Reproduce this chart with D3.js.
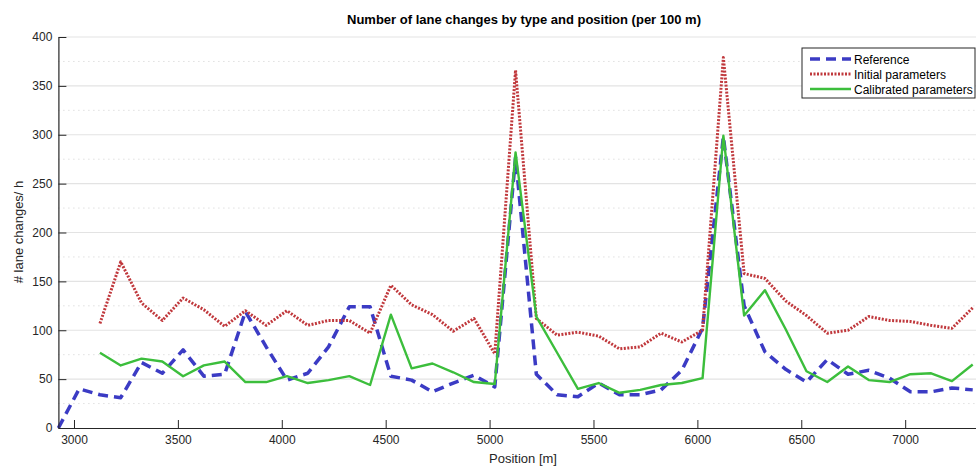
<!DOCTYPE html>
<html>
<head>
<meta charset="utf-8">
<script src="https://cdn.jsdelivr.net/npm/d3@7"></script>
<style>
  body { margin: 0; background: #fff; }
  #chart { width: 976px; height: 466px; overflow: hidden; }
  text { font-family: "Liberation Sans", Arial, sans-serif; }
  .axis text { font-size: 12px; fill: #262626; }
  .axis path, .axis line { stroke: #262626; }
</style>
</head>
<body>
<div id="chart"></div>
<script>
// ---------- Data ----------
const positions = [
  2925, 3025, 3125, 3225, 3325, 3425, 3525, 3625, 3725, 3825,
  3925, 4025, 4125, 4225, 4325, 4425, 4525, 4625, 4725, 4825,
  4925, 5025, 5125, 5225, 5325, 5425, 5525, 5625, 5725, 5825,
  5925, 6025, 6125, 6225, 6325, 6425, 6525, 6625, 6725, 6825,
  6925, 7025, 7125, 7225, 7325
];

const referenceValues = [
  0, 40, 34, 31, 67, 56, 80, 53, 55, 119,
  83, 49, 56, 83, 124, 124, 53, 49, 37, 46,
  54, 42, 277, 55, 34, 32, 46, 34, 34, 39,
  59, 102, 298, 125, 78, 60, 47, 70, 55, 59,
  51, 37, 37, 41, 39
];

const initialValues = [
  null, null, 107, 170, 128, 110, 133, 121, 104, 120,
  105, 120, 105, 110, 110, 97, 146, 126, 116, 99,
  112, 76, 366, 112, 95, 98, 94, 81, 83, 97,
  88, 100, 379, 158, 153, 130, 115, 97, 100, 114,
  110, 109, 105, 102, 123
];

const calibratedValues = [
  null, null, 77, 64, 71, 68, 53, 64, 68, 47,
  47, 53, 46, 49, 53, 44, 116, 61, 66, 57,
  47, 45, 282, 114, 77, 40, 46, 36, 39, 44,
  46, 51, 299, 115, 141, 101, 58, 47, 63, 49,
  47, 55, 56, 48, 65
];

const xTickValues = [3000, 3500, 4000, 4500, 5000, 5500, 6000, 6500, 7000];
const yTickValues = [0, 50, 100, 150, 200, 250, 300, 350, 400];
const yMinorValues = [25, 75, 125, 175, 225, 275, 325, 375];

const seriesInfo = [
  { label: "Reference", values: referenceValues, color: "#3b3bc4", width: 3.5, dash: "10,6" },
  { label: "Initial parameters", values: initialValues, color: "#c0383c", width: 3, dash: "2,1.5" },
  { label: "Calibrated parameters", values: calibratedValues, color: "#3cbe3c", width: 2.4, dash: null }
];

// ---------- Layout ----------
const width = 976;
const height = 466;
const plot = { left: 58.4, right: 988.3, top: 37, bottom: 428 };

const svg = d3.select("#chart").append("svg")
  .attr("width", width)
  .attr("height", height);

// ---------- Scales ----------
const xScale = d3.scaleLinear()
  .domain([2925, 7400])
  .range([plot.left, plot.right]);

const yScale = d3.scaleLinear()
  .domain([0, 400])
  .range([plot.bottom, plot.top]);

// ---------- Grid ----------
svg.append("g")
  .selectAll("line")
  .data(yMinorValues)
  .enter()
  .append("line")
  .attr("x1", plot.left)
  .attr("x2", plot.right)
  .attr("y1", d => yScale(d))
  .attr("y2", d => yScale(d))
  .attr("stroke", "#cfcfcf")
  .attr("stroke-width", 1)
  .attr("stroke-dasharray", "1,4");

svg.append("g")
  .selectAll("line")
  .data(yTickValues.filter(d => d > 0))
  .enter()
  .append("line")
  .attr("x1", plot.left)
  .attr("x2", plot.right)
  .attr("y1", d => yScale(d))
  .attr("y2", d => yScale(d))
  .attr("stroke", "#e3e3e3")
  .attr("stroke-width", 1.2);

// ---------- Lines ----------
const lineGen = values => d3.line()
  .defined((d, i) => values[i] !== null)
  .x((d, i) => xScale(positions[i]))
  .y((d, i) => yScale(values[i]))(values);

svg.append("g")
  .selectAll("path")
  .data(seriesInfo)
  .enter()
  .append("path")
  .attr("d", d => lineGen(d.values))
  .attr("fill", "none")
  .attr("stroke", d => d.color)
  .attr("stroke-width", d => d.width)
  .attr("stroke-dasharray", d => d.dash)
  .attr("stroke-linejoin", "round");

// ---------- Axes ----------
svg.append("g")
  .attr("class", "axis")
  .attr("transform", `translate(0,${plot.bottom})`)
  .call(d3.axisBottom(xScale)
    .tickValues(xTickValues)
    .tickFormat(d3.format("d"))
    .tickSizeInner(-8).tickSizeOuter(0).tickPadding(7))
  .call(g => g.select(".domain").attr("stroke-width", 1.2));

svg.append("g")
  .attr("class", "axis")
  .attr("transform", `translate(${plot.left},0)`)
  .call(d3.axisLeft(yScale)
    .tickValues(yTickValues)
    .tickSizeInner(-8).tickSizeOuter(0).tickPadding(6))
  .call(g => g.select(".domain").attr("stroke-width", 1.2));

// ---------- Labels ----------
svg.append("text")
  .attr("x", 524)
  .attr("y", 24)
  .attr("text-anchor", "middle")
  .attr("font-size", 13)
  .attr("font-weight", "bold")
  .attr("fill", "#000")
  .text("Number of lane changes by type and position (per 100 m)");

svg.append("text")
  .attr("x", 523)
  .attr("y", 463)
  .attr("text-anchor", "middle")
  .attr("font-size", 13)
  .attr("fill", "#262626")
  .text("Position [m]");

svg.append("text")
  .attr("transform", "rotate(-90)")
  .attr("x", -232)
  .attr("y", 23)
  .attr("text-anchor", "middle")
  .attr("font-size", 13)
  .attr("fill", "#262626")
  .text("# lane changes/ h");

// ---------- Legend ----------
const legend = svg.append("g")
  .attr("transform", "translate(802,48)");

legend.append("rect")
  .attr("width", 173)
  .attr("height", 50)
  .attr("fill", "#fff")
  .attr("stroke", "#262626")
  .attr("stroke-width", 1);

legend.selectAll("line")
  .data(seriesInfo)
  .enter()
  .append("line")
  .attr("x1", 8)
  .attr("x2", 49)
  .attr("y1", (d, i) => 11 + i * 15)
  .attr("y2", (d, i) => 11 + i * 15)
  .attr("stroke", d => d.color)
  .attr("stroke-width", d => d.width)
  .attr("stroke-dasharray", d => d.dash);

legend.selectAll("text")
  .data(seriesInfo)
  .enter()
  .append("text")
  .attr("x", 52)
  .attr("y", (d, i) => 15.5 + i * 15)
  .attr("font-size", 12)
  .attr("fill", "#000")
  .text(d => d.label);
</script>
</body>
</html>
